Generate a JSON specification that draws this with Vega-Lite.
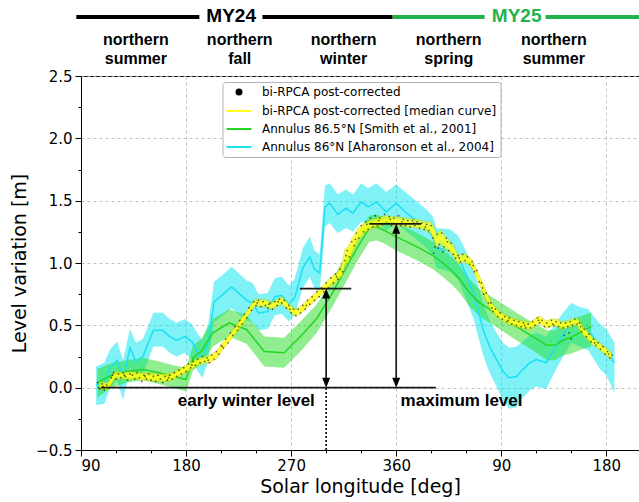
{
  "$schema": "https://vega.github.io/schema/vega-lite/v6.json",
  "width": 558,
  "height": 374,
  "autosize": {"type": "none"},
  "padding": {"left": 81, "top": 76, "right": 0, "bottom": 52},
  "background": "white",
  "resolve": {"axis": {"x": "independent", "y": "independent"}},
  "config": {
    "view": {"stroke": "black", "strokeWidth": 1},
    "axis": {
      "labelFont": "DejaVu Sans", "labelFontSize": 15, "labelColor": "black",
      "titleFont": "DejaVu Sans", "titleFontSize": 19, "titleFontWeight": "normal", "titleColor": "black",
      "domainColor": "black", "tickColor": "black",
      "gridColor": "#b0b0b0", "gridDash": [3, 3], "gridWidth": 0.8
    }
  },
  "datasets": {
    "cyan": [
      {"ls":103,"v":0.02,"lo":-0.14,"hi":0.17},{"ls":110,"v":0.04,"lo":-0.13,"hi":0.2},{"ls":115,"v":0.16,"lo":0.0,"hi":0.31},{"ls":121,"v":0.22,"lo":0.06,"hi":0.37},{"ls":126,"v":0.06,"lo":-0.1,"hi":0.22},{"ls":132,"v":0.32,"lo":0.16,"hi":0.47},{"ls":137,"v":0.21,"lo":0.06,"hi":0.36},{"ls":143,"v":0.25,"lo":0.11,"hi":0.39},{"ls":152,"v":0.46,"lo":0.33,"hi":0.6},{"ls":160,"v":0.46,"lo":0.33,"hi":0.6},{"ls":166,"v":0.41,"lo":0.28,"hi":0.55},{"ls":172,"v":0.38,"lo":0.25,"hi":0.52},{"ls":179,"v":0.41,"lo":0.28,"hi":0.55},{"ls":185,"v":0.37,"lo":0.23,"hi":0.51},{"ls":190,"v":0.28,"lo":0.13,"hi":0.43},{"ls":194,"v":0.23,"lo":0.08,"hi":0.38},{"ls":199,"v":0.36,"lo":0.21,"hi":0.51},{"ls":204,"v":0.69,"lo":0.52,"hi":0.85},{"ls":212,"v":0.75,"lo":0.58,"hi":0.91},{"ls":219,"v":0.81,"lo":0.64,"hi":0.97},{"ls":226,"v":0.75,"lo":0.58,"hi":0.91},{"ls":232,"v":0.7,"lo":0.54,"hi":0.86},{"ls":237,"v":0.68,"lo":0.52,"hi":0.84},{"ls":242,"v":0.6,"lo":0.46,"hi":0.75},{"ls":250,"v":0.61,"lo":0.47,"hi":0.76},{"ls":256,"v":0.73,"lo":0.58,"hi":0.88},{"ls":262,"v":0.74,"lo":0.59,"hi":0.89},{"ls":268,"v":0.67,"lo":0.53,"hi":0.82},{"ls":273,"v":0.72,"lo":0.58,"hi":0.87},{"ls":280,"v":0.96,"lo":0.8,"hi":1.12},{"ls":286,"v":1.05,"lo":0.89,"hi":1.21},{"ls":290,"v":0.95,"lo":0.8,"hi":1.1},{"ls":294.5,"v":0.92,"lo":0.77,"hi":1.07},{"ls":299,"v":1.45,"lo":1.29,"hi":1.62},{"ls":303,"v":1.48,"lo":1.32,"hi":1.64},{"ls":310,"v":1.39,"lo":1.24,"hi":1.55},{"ls":317,"v":1.44,"lo":1.28,"hi":1.59},{"ls":323,"v":1.4,"lo":1.25,"hi":1.55},{"ls":330,"v":1.49,"lo":1.33,"hi":1.64},{"ls":336,"v":1.45,"lo":1.3,"hi":1.6},{"ls":343,"v":1.49,"lo":1.33,"hi":1.64},{"ls":351.5,"v":1.41,"lo":1.26,"hi":1.57},{"ls":360,"v":1.48,"lo":1.32,"hi":1.63},{"ls":369,"v":1.4,"lo":1.25,"hi":1.56},{"ls":377,"v":1.34,"lo":1.19,"hi":1.5},{"ls":386,"v":1.27,"lo":1.12,"hi":1.43},{"ls":391.5,"v":1.21,"lo":1.06,"hi":1.37},{"ls":394.5,"v":1.12,"lo":0.96,"hi":1.28},{"ls":406,"v":1.1,"lo":0.93,"hi":1.27},{"ls":413,"v":1.05,"lo":0.87,"hi":1.22},{"ls":417,"v":0.97,"lo":0.78,"hi":1.15},{"ls":421.5,"v":0.865,"lo":0.67,"hi":1.06},{"ls":426,"v":0.76,"lo":0.56,"hi":0.96},{"ls":430,"v":0.625,"lo":0.42,"hi":0.83},{"ls":434.5,"v":0.465,"lo":0.26,"hi":0.67},{"ls":440,"v":0.33,"lo":0.12,"hi":0.54},{"ls":446,"v":0.225,"lo":0.01,"hi":0.44},{"ls":451.5,"v":0.13,"lo":-0.1,"hi":0.36},{"ls":457,"v":0.08,"lo":-0.17,"hi":0.32},{"ls":463,"v":0.09,"lo":-0.16,"hi":0.33},{"ls":468.5,"v":0.145,"lo":-0.08,"hi":0.37},{"ls":474.5,"v":0.2,"lo":-0.02,"hi":0.42},{"ls":480,"v":0.225,"lo":0.01,"hi":0.44},{"ls":488.5,"v":0.2,"lo":-0.01,"hi":0.41},{"ls":496,"v":0.32,"lo":0.13,"hi":0.51},{"ls":503,"v":0.425,"lo":0.25,"hi":0.6},{"ls":510,"v":0.52,"lo":0.36,"hi":0.68},{"ls":517,"v":0.49,"lo":0.33,"hi":0.65},{"ls":524.5,"v":0.465,"lo":0.3,"hi":0.63},{"ls":534.5,"v":0.33,"lo":0.15,"hi":0.51},{"ls":540,"v":0.29,"lo":0.1,"hi":0.47},{"ls":547,"v":0.2,"lo":-0.04,"hi":0.36}
    ],
    "green": [
      {"ls":104,"v":0.04,"lo":-0.08,"hi":0.15},{"ls":114,"v":0.09,"lo":-0.01,"hi":0.19},{"ls":129,"v":0.13,"lo":0.04,"hi":0.22},{"ls":143,"v":0.145,"lo":0.06,"hi":0.24},{"ls":157,"v":0.12,"lo":0.03,"hi":0.21},{"ls":169,"v":0.09,"lo":0.0,"hi":0.18},{"ls":180,"v":0.065,"lo":-0.03,"hi":0.16},{"ls":186,"v":0.24,"lo":0.14,"hi":0.34},{"ls":193,"v":0.29,"lo":0.19,"hi":0.39},{"ls":203,"v":0.44,"lo":0.33,"hi":0.55},{"ls":217,"v":0.52,"lo":0.41,"hi":0.63},{"ls":232,"v":0.465,"lo":0.35,"hi":0.58},{"ls":247,"v":0.29,"lo":0.17,"hi":0.41},{"ls":264,"v":0.28,"lo":0.16,"hi":0.4},{"ls":277,"v":0.4,"lo":0.28,"hi":0.52},{"ls":292,"v":0.555,"lo":0.44,"hi":0.67},{"ls":306,"v":0.77,"lo":0.66,"hi":0.88},{"ls":320,"v":1.01,"lo":0.9,"hi":1.12},{"ls":329,"v":1.16,"lo":1.05,"hi":1.27},{"ls":337,"v":1.28,"lo":1.17,"hi":1.38},{"ls":343,"v":1.29,"lo":1.18,"hi":1.39},{"ls":349,"v":1.265,"lo":1.16,"hi":1.37},{"ls":360,"v":1.21,"lo":1.1,"hi":1.32},{"ls":371.5,"v":1.16,"lo":1.05,"hi":1.27},{"ls":380,"v":1.12,"lo":1.01,"hi":1.23},{"ls":391.5,"v":1.06,"lo":0.95,"hi":1.17},{"ls":400,"v":1.0,"lo":0.89,"hi":1.11},{"ls":408.5,"v":0.93,"lo":0.82,"hi":1.04},{"ls":414.5,"v":0.87,"lo":0.76,"hi":0.98},{"ls":423,"v":0.76,"lo":0.65,"hi":0.87},{"ls":431.5,"v":0.68,"lo":0.57,"hi":0.79},{"ls":440,"v":0.63,"lo":0.52,"hi":0.74},{"ls":448.5,"v":0.58,"lo":0.47,"hi":0.69},{"ls":463,"v":0.49,"lo":0.38,"hi":0.6},{"ls":477,"v":0.41,"lo":0.3,"hi":0.52},{"ls":489,"v":0.34,"lo":0.22,"hi":0.46},{"ls":496,"v":0.34,"lo":0.22,"hi":0.46},{"ls":503,"v":0.38,"lo":0.26,"hi":0.51},{"ls":509,"v":0.4,"lo":0.27,"hi":0.53},{"ls":517,"v":0.44,"lo":0.3,"hi":0.57},{"ls":527,"v":0.49,"lo":0.33,"hi":0.6}
    ],
    "yellow": [
      {"ls":106,"v":0.02,"lo":-0.01,"hi":0.05},{"ls":113,"v":0.01,"lo":-0.02,"hi":0.04},{"ls":118.7,"v":0.1,"lo":0.07,"hi":0.13},{"ls":124,"v":0.096,"lo":0.066,"hi":0.126},{"ls":136,"v":0.096,"lo":0.066,"hi":0.126},{"ls":147,"v":0.086,"lo":0.056,"hi":0.116},{"ls":159,"v":0.078,"lo":0.048,"hi":0.108},{"ls":167,"v":0.083,"lo":0.053,"hi":0.113},{"ls":176,"v":0.13,"lo":0.1,"hi":0.16},{"ls":181,"v":0.155,"lo":0.125,"hi":0.185},{"ls":187,"v":0.19,"lo":0.16,"hi":0.22},{"ls":193,"v":0.215,"lo":0.185,"hi":0.245},{"ls":200,"v":0.23,"lo":0.2,"hi":0.26},{"ls":206,"v":0.26,"lo":0.23,"hi":0.29},{"ls":212,"v":0.34,"lo":0.31,"hi":0.37},{"ls":218,"v":0.41,"lo":0.38,"hi":0.44},{"ls":224,"v":0.48,"lo":0.45,"hi":0.51},{"ls":230,"v":0.56,"lo":0.53,"hi":0.59},{"ls":235,"v":0.63,"lo":0.6,"hi":0.66},{"ls":239,"v":0.68,"lo":0.65,"hi":0.71},{"ls":244,"v":0.68,"lo":0.65,"hi":0.71},{"ls":249,"v":0.675,"lo":0.645,"hi":0.705},{"ls":253,"v":0.655,"lo":0.625,"hi":0.685},{"ls":258,"v":0.68,"lo":0.65,"hi":0.71},{"ls":262,"v":0.7,"lo":0.67,"hi":0.73},{"ls":267,"v":0.655,"lo":0.625,"hi":0.685},{"ls":271,"v":0.62,"lo":0.59,"hi":0.65},{"ls":274.5,"v":0.6,"lo":0.57,"hi":0.63},{"ls":279,"v":0.63,"lo":0.6,"hi":0.66},{"ls":286,"v":0.69,"lo":0.66,"hi":0.72},{"ls":292,"v":0.74,"lo":0.71,"hi":0.77},{"ls":297,"v":0.785,"lo":0.755,"hi":0.815},{"ls":302,"v":0.83,"lo":0.795,"hi":0.865},{"ls":306,"v":0.865,"lo":0.83,"hi":0.9},{"ls":311,"v":0.905,"lo":0.87,"hi":0.94},{"ls":314,"v":0.95,"lo":0.9,"hi":1.0},{"ls":316,"v":1.05,"lo":0.99,"hi":1.11},{"ls":319,"v":1.07,"lo":1.01,"hi":1.13},{"ls":322,"v":1.13,"lo":1.07,"hi":1.19},{"ls":327,"v":1.225,"lo":1.175,"hi":1.275},{"ls":334,"v":1.29,"lo":1.25,"hi":1.33},{"ls":341.5,"v":1.32,"lo":1.285,"hi":1.355},{"ls":351.5,"v":1.345,"lo":1.31,"hi":1.38},{"ls":360,"v":1.335,"lo":1.3,"hi":1.37},{"ls":371.5,"v":1.32,"lo":1.285,"hi":1.355},{"ls":377,"v":1.315,"lo":1.28,"hi":1.35},{"ls":384,"v":1.3,"lo":1.265,"hi":1.335},{"ls":390,"v":1.28,"lo":1.235,"hi":1.325},{"ls":391.5,"v":1.25,"lo":1.195,"hi":1.305},{"ls":394.5,"v":1.18,"lo":1.125,"hi":1.235},{"ls":398,"v":1.21,"lo":1.155,"hi":1.265},{"ls":401.5,"v":1.17,"lo":1.115,"hi":1.225},{"ls":406,"v":1.13,"lo":1.085,"hi":1.175},{"ls":409,"v":1.1,"lo":1.055,"hi":1.145},{"ls":413,"v":1.03,"lo":0.995,"hi":1.065},{"ls":416,"v":1.035,"lo":1.0,"hi":1.07},{"ls":419,"v":1.04,"lo":1.005,"hi":1.075},{"ls":424.5,"v":1.0,"lo":0.965,"hi":1.035},{"ls":430,"v":0.89,"lo":0.855,"hi":0.925},{"ls":436,"v":0.76,"lo":0.725,"hi":0.795},{"ls":441.5,"v":0.65,"lo":0.615,"hi":0.685},{"ls":448.5,"v":0.58,"lo":0.55,"hi":0.61},{"ls":457,"v":0.535,"lo":0.505,"hi":0.565},{"ls":466,"v":0.51,"lo":0.48,"hi":0.54},{"ls":474.5,"v":0.495,"lo":0.465,"hi":0.525},{"ls":480,"v":0.53,"lo":0.5,"hi":0.56},{"ls":483,"v":0.545,"lo":0.515,"hi":0.575},{"ls":488.5,"v":0.505,"lo":0.475,"hi":0.535},{"ls":493,"v":0.52,"lo":0.49,"hi":0.55},{"ls":497.5,"v":0.52,"lo":0.49,"hi":0.55},{"ls":502,"v":0.5,"lo":0.47,"hi":0.53},{"ls":506,"v":0.505,"lo":0.475,"hi":0.535},{"ls":510,"v":0.52,"lo":0.49,"hi":0.55},{"ls":514.5,"v":0.53,"lo":0.5,"hi":0.56},{"ls":517,"v":0.5,"lo":0.465,"hi":0.535},{"ls":520,"v":0.455,"lo":0.42,"hi":0.49},{"ls":524,"v":0.42,"lo":0.385,"hi":0.455},{"ls":528.5,"v":0.37,"lo":0.34,"hi":0.4},{"ls":532,"v":0.35,"lo":0.32,"hi":0.38},{"ls":537,"v":0.31,"lo":0.28,"hi":0.34},{"ls":541,"v":0.28,"lo":0.25,"hi":0.31},{"ls":544.5,"v":0.25,"lo":0.22,"hi":0.28}
    ],
    "dots": [
      {"ls":104,"v":0.04},{"ls":106,"v":-0.01},{"ls":108,"v":0.03},{"ls":110,"v":-0.02},{"ls":112,"v":0.02},{"ls":114,"v":0.0},{"ls":116,"v":0.08},{"ls":118,"v":0.12},{"ls":120,"v":0.07},{"ls":122,"v":0.11},{"ls":124,"v":0.08},{"ls":126,"v":0.12},{"ls":128,"v":0.09},{"ls":130,"v":0.06},{"ls":132,"v":0.11},{"ls":134,"v":0.1},{"ls":136,"v":0.07},{"ls":138,"v":0.12},{"ls":140,"v":0.08},{"ls":142,"v":0.05},{"ls":144,"v":0.1},{"ls":146,"v":0.07},{"ls":148,"v":0.11},{"ls":150,"v":0.06},{"ls":152,"v":0.09},{"ls":154,"v":0.05},{"ls":156,"v":0.1},{"ls":158,"v":0.07},{"ls":160,"v":0.04},{"ls":162,"v":0.09},{"ls":164,"v":0.06},{"ls":166,"v":0.1},{"ls":168,"v":0.07},{"ls":170,"v":0.12},{"ls":172,"v":0.09},{"ls":174,"v":0.14},{"ls":176,"v":0.11},{"ls":178,"v":0.16},{"ls":180,"v":0.13},{"ls":182,"v":0.19},{"ls":184,"v":0.16},{"ls":186,"v":0.21},{"ls":188,"v":0.18},{"ls":190,"v":0.23},{"ls":192,"v":0.2},{"ls":194,"v":0.25},{"ls":196,"v":0.21},{"ls":198,"v":0.24},{"ls":200,"v":0.2},{"ls":202,"v":0.26},{"ls":204,"v":0.23},{"ls":206,"v":0.29},{"ls":208,"v":0.27},{"ls":210,"v":0.34},{"ls":212,"v":0.32},{"ls":214,"v":0.39},{"ls":216,"v":0.36},{"ls":218,"v":0.44},{"ls":220,"v":0.42},{"ls":222,"v":0.49},{"ls":224,"v":0.46},{"ls":226,"v":0.54},{"ls":228,"v":0.51},{"ls":230,"v":0.59},{"ls":232,"v":0.56},{"ls":234,"v":0.64},{"ls":236,"v":0.62},{"ls":238,"v":0.69},{"ls":240,"v":0.66},{"ls":242,"v":0.7},{"ls":244,"v":0.65},{"ls":246,"v":0.69},{"ls":248,"v":0.66},{"ls":250,"v":0.64},{"ls":252,"v":0.68},{"ls":254,"v":0.63},{"ls":256,"v":0.69},{"ls":258,"v":0.66},{"ls":260,"v":0.71},{"ls":262,"v":0.68},{"ls":264,"v":0.7},{"ls":266,"v":0.64},{"ls":268,"v":0.66},{"ls":270,"v":0.6},{"ls":272,"v":0.63},{"ls":274,"v":0.58},{"ls":276,"v":0.63},{"ls":278,"v":0.6},{"ls":280,"v":0.66},{"ls":282,"v":0.63},{"ls":284,"v":0.7},{"ls":286,"v":0.67},{"ls":288,"v":0.73},{"ls":290,"v":0.7},{"ls":292,"v":0.77},{"ls":294,"v":0.73},{"ls":296,"v":0.8},{"ls":298,"v":0.77},{"ls":300,"v":0.84},{"ls":302,"v":0.8},{"ls":304,"v":0.88},{"ls":306,"v":0.84},{"ls":308,"v":0.91},{"ls":310,"v":0.87},{"ls":312,"v":0.95},{"ls":314,"v":0.93},{"ls":316,"v":1.02},{"ls":318,"v":1.1},{"ls":320,"v":1.05},{"ls":322,"v":1.17},{"ls":324,"v":1.14},{"ls":326,"v":1.24},{"ls":328,"v":1.2},{"ls":330,"v":1.3},{"ls":332,"v":1.25},{"ls":334,"v":1.33},{"ls":336,"v":1.27},{"ls":338,"v":1.36},{"ls":340,"v":1.29},{"ls":342,"v":1.38},{"ls":344,"v":1.3},{"ls":346,"v":1.36},{"ls":348,"v":1.31},{"ls":350,"v":1.39},{"ls":352,"v":1.32},{"ls":354,"v":1.37},{"ls":356,"v":1.3},{"ls":358,"v":1.36},{"ls":360,"v":1.31},{"ls":362,"v":1.38},{"ls":364,"v":1.3},{"ls":366,"v":1.35},{"ls":368,"v":1.3},{"ls":370,"v":1.34},{"ls":372,"v":1.29},{"ls":374,"v":1.34},{"ls":376,"v":1.3},{"ls":378,"v":1.33},{"ls":380,"v":1.28},{"ls":382,"v":1.32},{"ls":384,"v":1.27},{"ls":386,"v":1.31},{"ls":388,"v":1.26},{"ls":390,"v":1.3},{"ls":391.5,"v":1.2},{"ls":393,"v":1.13},{"ls":395,"v":1.23},{"ls":397,"v":1.15},{"ls":399,"v":1.24},{"ls":401,"v":1.13},{"ls":403,"v":1.2},{"ls":405,"v":1.1},{"ls":407,"v":1.16},{"ls":409,"v":1.07},{"ls":411,"v":1.04},{"ls":413,"v":1.06},{"ls":415,"v":1.01},{"ls":417,"v":1.07},{"ls":419,"v":1.02},{"ls":421,"v":1.05},{"ls":423,"v":0.99},{"ls":425,"v":1.01},{"ls":427,"v":0.93},{"ls":429,"v":0.94},{"ls":431,"v":0.85},{"ls":433,"v":0.84},{"ls":435,"v":0.75},{"ls":437,"v":0.76},{"ls":439,"v":0.68},{"ls":441,"v":0.68},{"ls":443,"v":0.61},{"ls":445,"v":0.63},{"ls":447,"v":0.57},{"ls":449,"v":0.6},{"ls":451,"v":0.55},{"ls":453,"v":0.57},{"ls":455,"v":0.53},{"ls":457,"v":0.56},{"ls":459,"v":0.51},{"ls":461,"v":0.54},{"ls":463,"v":0.5},{"ls":465,"v":0.53},{"ls":467,"v":0.49},{"ls":469,"v":0.52},{"ls":471,"v":0.48},{"ls":473,"v":0.51},{"ls":475,"v":0.48},{"ls":477,"v":0.53},{"ls":479,"v":0.5},{"ls":481,"v":0.56},{"ls":483,"v":0.52},{"ls":485,"v":0.54},{"ls":487,"v":0.49},{"ls":489,"v":0.52},{"ls":491,"v":0.49},{"ls":493,"v":0.54},{"ls":495,"v":0.5},{"ls":497,"v":0.53},{"ls":499,"v":0.49},{"ls":501,"v":0.52},{"ls":503,"v":0.48},{"ls":505,"v":0.52},{"ls":507,"v":0.49},{"ls":509,"v":0.53},{"ls":511,"v":0.5},{"ls":513,"v":0.55},{"ls":515,"v":0.51},{"ls":517,"v":0.52},{"ls":519,"v":0.45},{"ls":521,"v":0.47},{"ls":523,"v":0.41},{"ls":525,"v":0.43},{"ls":527,"v":0.37},{"ls":529,"v":0.39},{"ls":531,"v":0.34},{"ls":533,"v":0.36},{"ls":535,"v":0.31},{"ls":537,"v":0.33},{"ls":539,"v":0.27},{"ls":541,"v":0.29},{"ls":543,"v":0.24},{"ls":545,"v":0.26},
      {"ls":105,"v":0.0},{"ls":109,"v":0.01},{"ls":117,"v":0.1},{"ls":127,"v":0.1},{"ls":145,"v":0.09},{"ls":165,"v":0.08},{"ls":185,"v":0.18},{"ls":199,"v":0.22},{"ls":211,"v":0.33},{"ls":225,"v":0.49},{"ls":241,"v":0.68},{"ls":251,"v":0.67},{"ls":259,"v":0.69},{"ls":269,"v":0.63},{"ls":283,"v":0.66},{"ls":297,"v":0.79},{"ls":309,"v":0.89},{"ls":317,"v":1.06},{"ls":325,"v":1.19},{"ls":335,"v":1.31},{"ls":345,"v":1.34},{"ls":355,"v":1.35},{"ls":365,"v":1.33},{"ls":375,"v":1.32},{"ls":385,"v":1.29},{"ls":392,"v":1.08},{"ls":396,"v":1.12},{"ls":400,"v":1.09},{"ls":404,"v":1.17},{"ls":414,"v":1.04},{"ls":426,"v":0.98},{"ls":434,"v":0.8},{"ls":442,"v":0.64},{"ls":456,"v":0.54},{"ls":470,"v":0.5},{"ls":482,"v":0.54},{"ls":494,"v":0.51},{"ls":504,"v":0.42},{"ls":508,"v":0.44},{"ls":510,"v":0.39},{"ls":518,"v":0.49},{"ls":530,"v":0.36},{"ls":542,"v":0.27}
    ]
  },
  "layer": [
    {
      "data": {"name": "cyan"},
      "mark": {"type": "area", "color": "#00e5f0", "opacity": 0.5},
      "encoding": {
        "x": {"field": "ls", "type": "quantitative", "scale": {"domain": [90, 568], "nice": false, "zero": false},
          "axis": {"title": "Solar longitude [deg]", "orient": "bottom",
            "values": [90,180,270,360,450,540],
            "labelExpr": "datum.value > 360 ? '' + (datum.value - 360) : '' + datum.value",
            "labelOverlap": false, "labelPadding": 2, "titlePadding": 4, "tickSize": 6}},
        "y": {"field": "lo", "type": "quantitative", "scale": {"domain": [-0.5, 2.5], "nice": false, "zero": false},
          "axis": {"title": "Level variation [m]", "orient": "left",
            "values": [-0.5,0,0.5,1,1.5,2,2.5], "format": ".1f",
            "labelOverlap": false, "labelPadding": 3, "titlePadding": 6, "tickSize": 6}},
        "y2": {"field": "hi"}
      }
    },
    {
      "data": {"name": "dots"},
      "mark": {"type": "point", "opacity": 0},
      "encoding": {
        "x": {"field": "ls", "type": "quantitative",
          "axis": {"orient": "bottom", "values": [120,150,210,240,300,330,390,420,480,510], "labels": false, "grid": false, "domain": false, "tickSize": 3, "title": null}},
        "y": {"field": "v", "type": "quantitative",
          "axis": {"orient": "left", "values": [-0.25,0.25,0.75,1.25,1.75,2.25], "labels": false, "grid": false, "domain": false, "tickSize": 3, "title": null}}
      }
    },
    {
      "data": {"name": "green"},
      "mark": {"type": "area", "color": "#22dd22", "opacity": 0.5},
      "encoding": {
        "x": {"field": "ls", "type": "quantitative", "axis": null},
        "y": {"field": "lo", "type": "quantitative", "axis": null},
        "y2": {"field": "hi"}
      }
    },
    {
      "data": {"name": "cyan"},
      "mark": {"type": "line", "strokeWidth": 1.5},
      "encoding": {
        "x": {"field": "ls", "type": "quantitative", "axis": null},
        "y": {"field": "v", "type": "quantitative", "axis": null},
        "color": {"datum": "Annulus 86°N [Aharonson et al., 2004]", "type": "nominal",
          "scale": {"domain": ["bi-RPCA post-corrected", "bi-RPCA post-corrected [median curve]", "Annulus 86.5°N [Smith et al., 2001]", "Annulus 86°N [Aharonson et al., 2004]"],
                    "range": ["black", "#ffff1a", "#22d622", "#1ae0f5"]},
          "legend": {"title": null, "orient": "none", "legendX": 141.5, "legendY": 6, "direction": "vertical",
            "symbolSize": 100, "symbolOffset": 6.5, "labelOffset": 17,
            "labelFont": "DejaVu Sans", "labelFontSize": 12, "labelColor": "black", "labelLimit": 400,
            "padding": 4, "rowPadding": 6, "strokeColor": "#b3b3b3", "fillColor": "white", "cornerRadius": 3,
            "encode": {"symbols": {"update": {
              "shape": {"signal": "datum.value === 'bi-RPCA post-corrected' ? 'circle' : 'M-2.5,0H2.5'"},
              "size": {"signal": "datum.value === 'bi-RPCA post-corrected' ? 25 : 100"},
              "fill": {"signal": "datum.value === 'bi-RPCA post-corrected' ? 'black' : 'transparent'"},
              "stroke": {"signal": "datum.value === 'bi-RPCA post-corrected' ? 'transparent' : scale('color', datum.value)"},
              "strokeWidth": {"value": 2},
              "opacity": {"value": 1}
            }}}}
        }
      }
    },
    {
      "data": {"name": "green"},
      "mark": {"type": "line", "strokeWidth": 1.5},
      "encoding": {
        "x": {"field": "ls", "type": "quantitative", "axis": null},
        "y": {"field": "v", "type": "quantitative", "axis": null},
        "color": {"datum": "Annulus 86.5°N [Smith et al., 2001]", "type": "nominal"}
      }
    },
    {
      "data": {"name": "yellow"},
      "mark": {"type": "area", "color": "#ffff00", "opacity": 0.7, "stroke": "#b8b800", "strokeWidth": 0.6},
      "encoding": {
        "x": {"field": "ls", "type": "quantitative", "axis": null},
        "y": {"field": "lo", "type": "quantitative", "axis": null},
        "y2": {"field": "hi"}
      }
    },
    {
      "data": {"name": "yellow"},
      "mark": {"type": "line", "strokeWidth": 1.8},
      "encoding": {
        "x": {"field": "ls", "type": "quantitative", "axis": null},
        "y": {"field": "v", "type": "quantitative", "axis": null},
        "color": {"datum": "bi-RPCA post-corrected [median curve]", "type": "nominal"}
      }
    },
    {
      "data": {"name": "dots"},
      "mark": {"type": "point", "filled": true, "size": 3, "opacity": 0.6},
      "encoding": {
        "x": {"field": "ls", "type": "quantitative", "axis": null},
        "y": {"field": "v", "type": "quantitative", "axis": null},
        "color": {"datum": "bi-RPCA post-corrected", "type": "nominal"}
      }
    },
    {
      "data": {"values": [
        {"x": 107, "x2": 394, "y": 0, "y2": 0},
        {"x": 277.5, "x2": 321.5, "y": 0.795, "y2": 0.795},
        {"x": 337, "x2": 381.5, "y": 1.314, "y2": 1.314},
        {"x": 300, "x2": 300, "y": 0.02, "y2": 0.77},
        {"x": 360, "x2": 360, "y": 0.02, "y2": 1.29}
      ]},
      "mark": {"type": "rule", "color": "#1a1a1a", "strokeWidth": 1.7},
      "encoding": {
        "x": {"field": "x", "type": "quantitative", "axis": null},
        "x2": {"field": "x2"},
        "y": {"field": "y", "type": "quantitative", "axis": null},
        "y2": {"field": "y2"}
      }
    },
    {
      "data": {"values": [{"x": 300, "y": -0.5, "y2": 0}]},
      "mark": {"type": "rule", "color": "black", "strokeWidth": 1.6, "strokeDash": [2, 2]},
      "encoding": {
        "x": {"field": "x", "type": "quantitative", "axis": null},
        "y": {"field": "y", "type": "quantitative", "axis": null},
        "y2": {"field": "y2"}
      }
    },
    {
      "data": {"values": [{"x": 300, "y": 0.795}, {"x": 360, "y": 1.314}]},
      "mark": {"type": "point", "filled": true, "color": "black", "opacity": 1, "size": 100, "shape": "M0,0L-0.8,2L0.8,2Z"},
      "encoding": {
        "x": {"field": "x", "type": "quantitative", "axis": null},
        "y": {"field": "y", "type": "quantitative", "axis": null}
      }
    },
    {
      "data": {"values": [{"x": 300, "y": 0}, {"x": 360, "y": 0}]},
      "mark": {"type": "point", "filled": true, "color": "black", "opacity": 1, "size": 100, "shape": "M0,0L-0.8,-2L0.8,-2Z"},
      "encoding": {
        "x": {"field": "x", "type": "quantitative", "axis": null},
        "y": {"field": "y", "type": "quantitative", "axis": null}
      }
    },
    {
      "data": {"values": [{"t": "early winter level", "ls": 231.6}, {"t": "maximum level", "ls": 416}]},
      "mark": {"type": "text", "font": "Liberation Sans", "fontWeight": "bold", "fontSize": 17, "color": "black", "align": "center", "baseline": "middle"},
      "encoding": {
        "x": {"field": "ls", "type": "quantitative", "axis": null},
        "y": {"datum": -0.107, "type": "quantitative", "axis": null},
        "text": {"field": "t"}
      }
    },
    {
      "data": {"values": [{"a": 86, "b": 191.4}, {"a": 245.4, "b": 357}]},
      "mark": {"type": "rule", "color": "black", "strokeWidth": 4},
      "encoding": {
        "x": {"field": "a", "type": "quantitative", "axis": null},
        "x2": {"field": "b"},
        "y": {"datum": 2.973, "type": "quantitative", "axis": null}
      }
    },
    {
      "data": {"values": [{"a": 357, "b": 435.8}, {"a": 488, "b": 572}]},
      "mark": {"type": "rule", "color": "#22b14c", "strokeWidth": 4},
      "encoding": {
        "x": {"field": "a", "type": "quantitative", "axis": null},
        "x2": {"field": "b"},
        "y": {"datum": 2.973, "type": "quantitative", "axis": null}
      }
    },
    {
      "data": {"values": [{"t": "MY24", "ls": 218.6}]},
      "mark": {"type": "text", "font": "Liberation Sans", "fontWeight": "bold", "fontSize": 19, "color": "black", "align": "center", "baseline": "middle"},
      "encoding": {
        "x": {"field": "ls", "type": "quantitative", "axis": null},
        "y": {"datum": 2.985, "type": "quantitative", "axis": null},
        "text": {"field": "t"}
      }
    },
    {
      "data": {"values": [{"t": "MY25", "ls": 463.2}]},
      "mark": {"type": "text", "font": "Liberation Sans", "fontWeight": "bold", "fontSize": 19, "color": "#22b14c", "align": "center", "baseline": "middle"},
      "encoding": {
        "x": {"field": "ls", "type": "quantitative", "axis": null},
        "y": {"datum": 2.985, "type": "quantitative", "axis": null},
        "text": {"field": "t"}
      }
    },
    {
      "data": {"values": [
        {"t": "northern\nsummer", "ls": 137},
        {"t": "northern\nfall", "ls": 226},
        {"t": "northern\nwinter", "ls": 315},
        {"t": "northern\nspring", "ls": 405},
        {"t": "northern\nsummer", "ls": 495}
      ]},
      "mark": {"type": "text", "font": "Liberation Sans", "fontWeight": "bold", "fontSize": 16, "lineHeight": 19, "lineBreak": "\n", "color": "black", "align": "center", "baseline": "middle"},
      "encoding": {
        "x": {"field": "ls", "type": "quantitative", "axis": null},
        "y": {"datum": 2.789, "type": "quantitative", "axis": null},
        "text": {"field": "t"}
      }
    }
  ]
}
